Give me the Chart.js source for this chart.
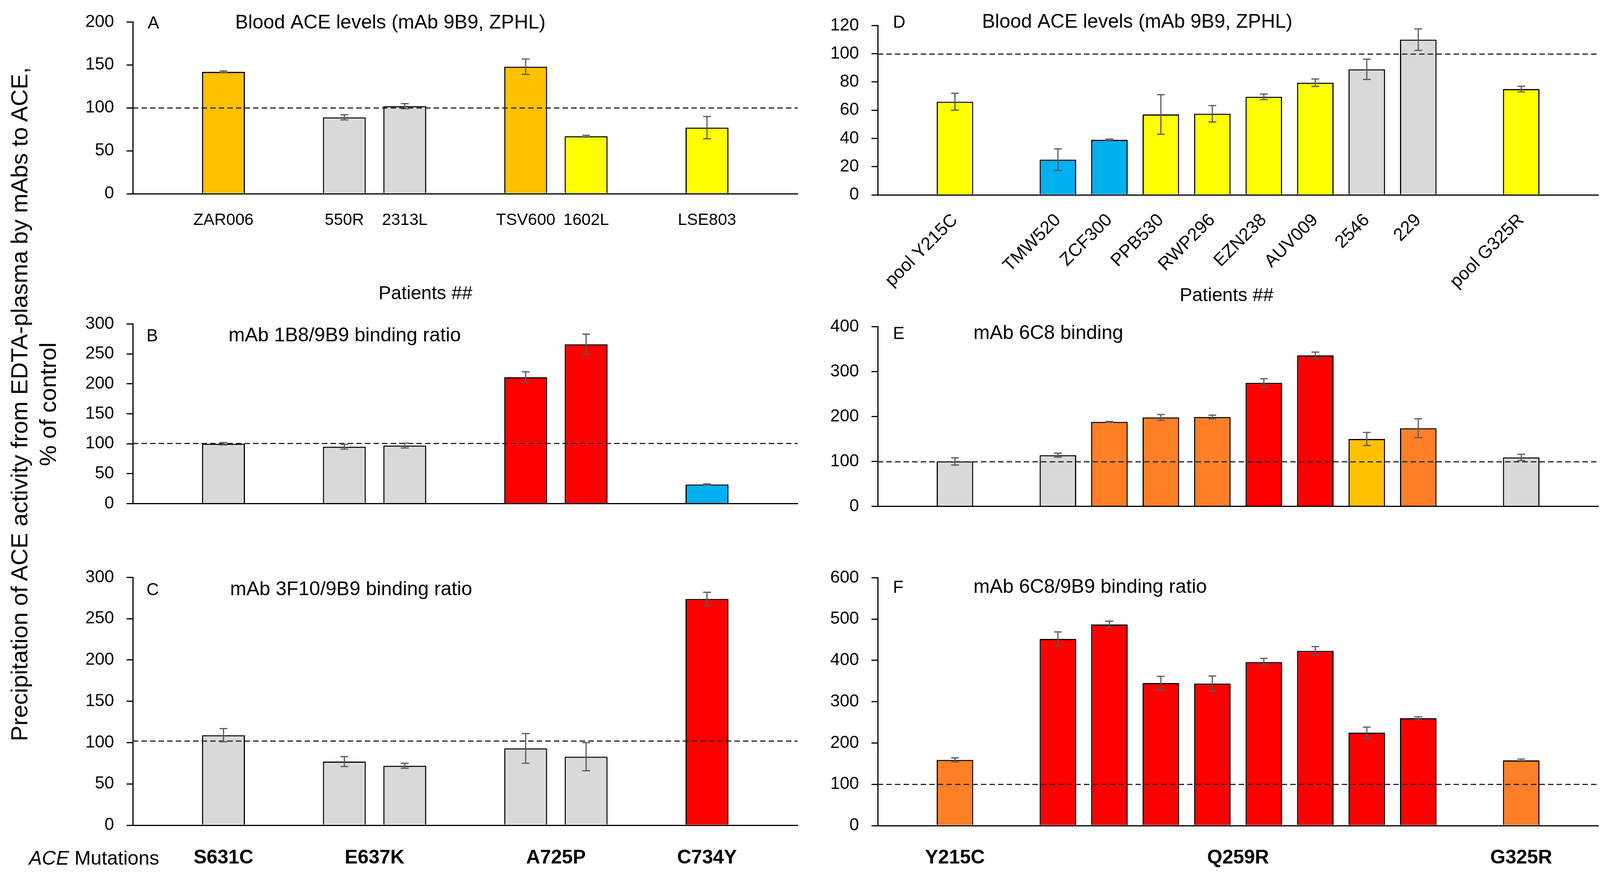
<!DOCTYPE html>
<html>
<head>
<meta charset="utf-8">
<title>ACE mutations - precipitation by mAbs</title>
<script src="https://cdn.jsdelivr.net/npm/chart.js@4.4.1/dist/chart.umd.min.js"></script>
<style>
  html, body { margin: 0; padding: 0; background: #fff; }
  #page { position: relative; width: 4115px; height: 2243px; overflow: hidden;
          font-family: 'Liberation Sans', Arial, Helvetica, sans-serif; color: #000; }
  #page canvas { position: absolute; }
  .ytitle { position: absolute; width: 2000px; height: 146px; left: -914px; top: 962px;
            transform: rotate(-90deg); text-align: center; font-size: 60px; line-height: 73px;
            white-space: nowrap; }
  .mutlab { position: absolute; left: 74px; top: 2167px; font-size: 50px; line-height: 60px; white-space: nowrap; }
</style>
</head>
<body>
<div id="page">
  <div class="ytitle">Precipitation of ACE activity from EDTA-plasma by mAbs to ACE,<br>% of control</div>
  <div class="mutlab"><i>ACE</i> Mutations</div>
</div>
<script>
// ---- categories (empty strings are spacer slots) ----
const patientsLeft = ['', 'ZAR006', '', '550R', '2313L', '', 'TSV600', '1602L', '', 'LSE803', ''];
const patientsRight = ['', 'pool Y215C', '', 'TMW520', 'ZCF300', 'PPB530', 'RWP296', 'EZN238', 'AUV009', '2546', '229', '', 'pool G325R', ''];

const mutationsLeft = ['S631C', 'E637K', 'A725P', 'C734Y'];
const mutationSlotsLeft = [[1], [3, 4], [6, 7], [9]];
const mutationsRight = ['Y215C', 'Q259R', 'G325R'];
const mutationSlotsRight = [[1], [3, 4, 5, 6, 7, 8, 9, 10], [12]];

// ---- series values (% of control) and SD ----
const levelsA = [null, 142, null, 89, 102, null, 148, 67, null, 77, null];
const errA    = [null, 1,   null, 3,  3,   null, 9,   1,  null, 13, null];

const ratioB  = [null, 100, null, 95, 97, null, 211, 266, null, 32, null];
const errB    = [null, 2,   null, 4,  4,  null, 9,   17,  null, 1,  null];

const ratioC  = [null, 109, null, 77, 72, null, 93, 83, null, 274, null];
const errC    = [null, 8,   null, 6,  3,  null, 18, 17, null, 8,   null];

const levelsD = [null, 66, null, 25, 39, 57, 57.5, 69.5, 79.5, 89, 110, null, 75, null];
const errD    = [null, 6,  null, 7.6, 0.6, 14, 5.8, 2, 2.6, 7.2, 7.6, null, 2, null];

const bindingE = [null, 100, null, 114, 188, 198, 199, 275, 336, 150, 174, null, 109, null];
const errE     = [null, 8,   null, 4.5, 1,   6.5, 4,   9,   7.5, 14.5, 21, null, 7,  null];

const ratioF  = [null, 159, null, 452, 487, 345, 344, 396, 423, 225, 260, null, 158, null];
const errF    = [null, 5,   null, 17,  8,   16.5, 18, 9,   10.5, 13.5, 3.5, null, 3, null];

// ---- y axis ticks ----
const yTicksA = [0, 200, 50];
const yTicksB = [0, 300, 50];
const yTicksC = [0, 300, 50];
const yTicksD = [0, 120, 20];
const yTicksE = [0, 400, 100];
const yTicksF = [0, 600, 100];

// ---- bar colours ----
const GREY = '#D9D9D9', AMBER = '#FFC000', YELLOW = '#FFFF00', RED = '#FF0000', BLUE = '#00B0F0', ORANGE = '#FF7F27';
const colorsA = [null, AMBER, null, GREY, GREY, null, AMBER, YELLOW, null, YELLOW, null];
const colorsB = [null, GREY, null, GREY, GREY, null, RED, RED, null, BLUE, null];
const colorsC = [null, GREY, null, GREY, GREY, null, GREY, GREY, null, RED, null];
const colorsD = [null, YELLOW, null, BLUE, BLUE, YELLOW, YELLOW, YELLOW, YELLOW, GREY, GREY, null, YELLOW, null];
const colorsE = [null, GREY, null, GREY, ORANGE, ORANGE, ORANGE, RED, RED, AMBER, ORANGE, null, GREY, null];
const colorsF = [null, ORANGE, null, RED, RED, RED, RED, RED, RED, RED, RED, null, ORANGE, null];

const FONT = "'Liberation Sans', Arial, Helvetica, sans-serif";
Chart.defaults.font.family = FONT;
Chart.defaults.color = '#000';

// dashed 100% line, error bars and panel texts
const panelDeco = {
  id: 'panelDeco',
  afterDatasetsDraw(chart, args, opts) {
    const { ctx, chartArea } = chart;
    const y = chart.scales.y;
    ctx.save();
    ctx.strokeStyle = '#262626';
    ctx.lineWidth = 3;
    ctx.setLineDash([14, 8]);
    const ry = Math.round(y.getPixelForValue(opts.ref)) + 0.5;
    ctx.beginPath();
    ctx.moveTo(chartArea.left, ry);
    ctx.lineTo(chartArea.right, ry);
    ctx.stroke();
    ctx.setLineDash([]);

    const meta = chart.getDatasetMeta(0);
    const vals = chart.data.datasets[0].data;
    ctx.strokeStyle = '#5a5a5a';
    ctx.lineWidth = 3;
    opts.errors.forEach((e, i) => {
      if (vals[i] == null || !e) return;
      const bx = meta.data[i].x;
      const y1 = y.getPixelForValue(vals[i] + e);
      const y2 = y.getPixelForValue(vals[i] - e);
      ctx.beginPath();
      ctx.moveTo(bx, y1); ctx.lineTo(bx, y2);
      ctx.moveTo(bx - 10, y1); ctx.lineTo(bx + 10, y1);
      ctx.moveTo(bx - 10, y2); ctx.lineTo(bx + 10, y2);
      ctx.stroke();
    });
    ctx.restore();
  },
  afterDraw(chart, args, opts) {
    const ctx = chart.ctx;
    ctx.save();
    ctx.fillStyle = '#000';
    (opts.texts || []).forEach(t => {
      ctx.font = (t.weight || 'normal') + ' ' + t.size + 'px ' + FONT;
      ctx.textAlign = t.align || 'left';
      ctx.textBaseline = t.baseline || 'alphabetic';
      ctx.fillText(t.text, t.x - opts.ox, t.y - opts.oy);
    });
    if (opts.groups) {
      const x = chart.scales.x;
      ctx.font = 'bold 50px ' + FONT;
      ctx.textAlign = 'center';
      ctx.textBaseline = 'middle';
      opts.groups.names.forEach((name, k) => {
        const slots = opts.groups.slots[k];
        const px = slots.reduce((s, i) => s + x.getPixelForValue(i), 0) / slots.length;
        ctx.fillText(name, px, opts.groups.y - opts.oy);
      });
    }
    ctx.restore();
  }
};

const Y_W = 200, PAD_T = 40, PAD_R = 30;

function makePanel(p) {
  const ox = p.area.L - Y_W, oy = p.area.T - PAD_T;
  const cv = document.createElement('canvas');
  cv.width = p.area.R - p.area.L + Y_W + PAD_R;
  cv.height = p.area.B - p.area.T + PAD_T + p.xHeight;
  cv.style.left = ox + 'px';
  cv.style.top = oy + 'px';
  document.getElementById('page').appendChild(cv);

  const rot = p.xTicks === 'rotated';
  new Chart(cv.getContext('2d'), {
    type: 'bar',
    data: {
      labels: p.labels,
      datasets: [{
        data: p.values,
        backgroundColor: p.colors,
        borderColor: '#000',
        borderWidth: 3,
        barPercentage: 0.71,
        categoryPercentage: 1
      }]
    },
    options: {
      responsive: false,
      animation: false,
      devicePixelRatio: 1,
      layout: { padding: { left: 0, top: PAD_T, right: PAD_R, bottom: 0 } },
      plugins: {
        legend: { display: false },
        tooltip: { enabled: false },
        panelDeco: {
          ref: p.ref, errors: p.errors, ox: ox, oy: oy,
          texts: p.texts, groups: p.groups
        }
      },
      scales: {
        x: {
          offset: true,
          grid: { display: false },
          border: { display: true, color: '#000', width: 3 },
          ticks: {
            display: p.xTicks !== 'none',
            autoSkip: false,
            maxRotation: rot ? 45 : 0,
            minRotation: rot ? 45 : 0,
            padding: rot ? 30 : 35,
            color: '#000',
            font: { size: rot ? 46 : 42 }
          },
          afterFit: s => { s.height = p.xHeight; }
        },
        y: {
          min: p.yTicks[0],
          max: p.yTicks[1],
          ticks: { stepSize: p.yTicks[2], color: '#000', padding: 32, font: { size: 44 } },
          grid: { drawOnChartArea: false, drawTicks: true, tickLength: 16, color: '#000', lineWidth: 3 },
          border: { color: '#000', width: 3 },
          afterFit: s => { s.width = Y_W; }
        }
      }
    },
    plugins: [panelDeco]
  });
}

const LEFT = { L: 340, R: 2042 }, RIGHT = { L: 2247, R: 4092 };

makePanel({
  area: { ...LEFT, T: 38, B: 496 }, xHeight: 290, xTicks: 'flat',
  labels: patientsLeft, values: levelsA, errors: errA, colors: colorsA, yTicks: yTicksA, ref: 100,
  texts: [
    { text: 'A', x: 378, y: 73, size: 44 },
    { text: 'Blood ACE levels (mAb 9B9, ZPHL)', x: 602, y: 73, size: 50 },
    { text: 'Patients ##', x: 1089, y: 753, size: 48, align: 'center', baseline: 'middle' }
  ]
});
makePanel({
  area: { ...LEFT, T: 811, B: 1328 }, xHeight: 20, xTicks: 'none',
  labels: patientsLeft, values: ratioB, errors: errB, colors: colorsB, yTicks: yTicksB, ref: 101,
  texts: [
    { text: 'B', x: 375, y: 874, size: 44 },
    { text: 'mAb 1B8/9B9 binding ratio', x: 585, y: 874, size: 50 }
  ]
});
makePanel({
  area: { ...LEFT, T: 1460, B: 2113 }, xHeight: 125, xTicks: 'none',
  labels: patientsLeft, values: ratioC, errors: errC, colors: colorsC, yTicks: yTicksC, ref: 102,
  texts: [
    { text: 'C', x: 375, y: 1524, size: 44 },
    { text: 'mAb 3F10/9B9 binding ratio', x: 589, y: 1524, size: 50 }
  ],
  groups: { names: mutationsLeft, slots: mutationSlotsLeft, y: 2197 }
});
makePanel({
  area: { ...RIGHT, T: 47, B: 499 }, xHeight: 290, xTicks: 'rotated',
  labels: patientsRight, values: levelsD, errors: errD, colors: colorsD, yTicks: yTicksD, ref: 100,
  texts: [
    { text: 'D', x: 2286, y: 71, size: 44 },
    { text: 'Blood ACE levels (mAb 9B9, ZPHL)', x: 2514, y: 71, size: 50 },
    { text: 'Patients ##', x: 3140, y: 758, size: 48, align: 'center', baseline: 'middle' }
  ]
});
makePanel({
  area: { ...RIGHT, T: 818, B: 1335 }, xHeight: 20, xTicks: 'none',
  labels: patientsRight, values: bindingE, errors: errE, colors: colorsE, yTicks: yTicksE, ref: 100,
  texts: [
    { text: 'E', x: 2286, y: 868, size: 44 },
    { text: 'mAb 6C8 binding', x: 2492, y: 868, size: 50 }
  ]
});
makePanel({
  area: { ...RIGHT, T: 1461, B: 2114 }, xHeight: 125, xTicks: 'none',
  labels: patientsRight, values: ratioF, errors: errF, colors: colorsF, yTicks: yTicksF, ref: 100,
  texts: [
    { text: 'F', x: 2286, y: 1518, size: 44 },
    { text: 'mAb 6C8/9B9 binding ratio', x: 2492, y: 1518, size: 50 }
  ],
  groups: { names: mutationsRight, slots: mutationSlotsRight, y: 2197 }
});
</script>
</body>
</html>
